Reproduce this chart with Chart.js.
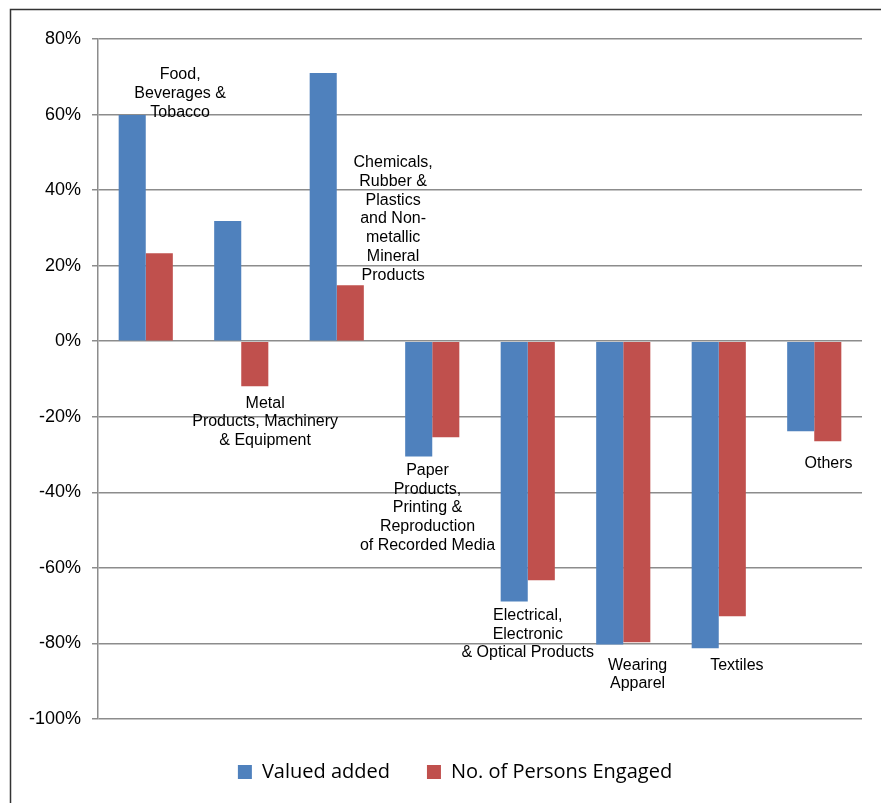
<!DOCTYPE html>
<html>
<head>
<meta charset="utf-8">
<script src="https://cdn.jsdelivr.net/npm/chart.js@4.4.1/dist/chart.umd.min.js"></script>
<style>
  html, body { margin: 0; padding: 0; background: #fff; }
  #wrap { width: 881px; height: 803px; position: relative; }
</style>
</head>
<body>
<div id="wrap"><canvas id="c" width="881" height="803"></canvas></div>
<script>
// ---- data ----
const categories = [
  "Food, Beverages & Tobacco",
  "Metal Products, Machinery & Equipment",
  "Chemicals, Rubber & Plastics and Non-metallic Mineral Products",
  "Paper Products, Printing & Reproduction of Recorded Media",
  "Electrical, Electronic & Optical Products",
  "Wearing Apparel",
  "Textiles",
  "Others"
];
const valueAdded = [59.9, 31.8, 71.0, -30.5, -68.9, -80.3, -81.3, -23.8];
const personsEngaged = [23.3, -11.9, 14.8, -25.4, -63.3, -79.7, -72.8, -26.5];
const yTicks = [80, 60, 40, 20, 0, -20, -40, -60, -80, -100];
const seriesNames = ["Valued added", "No. of Persons Engaged"];

// category annotation text (as shown in the chart)
const labelLines = [
  ["Food,", "Beverages &", "Tobacco"],
  ["Metal", "Products, Machinery", "& Equipment"],
  ["Chemicals,", "Rubber &", "Plastics", "and Non-", "metallic", "Mineral", "Products"],
  ["Paper", "Products,", "Printing &", "Reproduction", "of Recorded Media"],
  ["Electrical,", "Electronic", "& Optical Products"],
  ["Wearing", "Apparel"],
  ["Textiles"],
  ["Others"]
];
// anchor of first line: value on y axis, offset from category centre in category widths
const labelAnchorY = [70.5, -16.4, 47.2, -34.2, -72.6, -85.8, -85.8, -32.3];
const labelOffset = [0.36, 0.25, 0.59, -0.05, 0.0, 0.15, 0.19, 0.15];

const annotationPlugin = {
  id: 'catLabels',
  afterDatasetsDraw(chart) {
    const ctx = chart.ctx;
    const xs = chart.scales.x, ys = chart.scales.y;
    const catW = (xs.right - xs.left) / categories.length;
    const lh = Math.abs(ys.getPixelForValue(0) - ys.getPixelForValue(4.95));
    ctx.save();
    ctx.font = '16px "Liberation Sans", Arial, sans-serif';
    ctx.fillStyle = '#000';
    ctx.textAlign = 'center';
    ctx.textBaseline = 'middle';
    labelLines.forEach((lines, i) => {
      const x = xs.getPixelForValue(i) + labelOffset[i] * catW;
      const y0 = ys.getPixelForValue(labelAnchorY[i]);
      lines.forEach((t, k) => ctx.fillText(t, x, y0 + k * lh));
    });
    ctx.restore();
  }
};

const borderPlugin = {
  id: 'outerBorder',
  beforeDraw(chart) {
    const ctx = chart.ctx;
    ctx.save();
    ctx.fillStyle = '#fff';
    ctx.fillRect(0, 0, chart.width, chart.height);
    ctx.strokeStyle = '#333';
    ctx.lineWidth = 1.5;
    ctx.strokeRect(10.5, 9.5, chart.width + 20, chart.height + 20);
    ctx.restore();
  }
};

// shift the legend block so it is centred as in the reference
const legendShift = {
  id: 'legendShift',
  afterLayout(chart) {
    if (chart.legend) { chart.legend.left += 24; chart.legend.right += 24; }
  }
};

new Chart(document.getElementById('c'), {
  type: 'bar',
  data: {
    labels: categories,
    datasets: [
      { label: seriesNames[0], data: valueAdded, backgroundColor: '#4F81BD', borderWidth: 0 },
      { label: seriesNames[1], data: personsEngaged, backgroundColor: '#C0504D', borderWidth: 0 }
    ]
  },
  options: {
    responsive: false,
    animation: false,
    devicePixelRatio: 1,
    layout: { padding: { top: 39, left: 0, right: 19, bottom: 11 } },
    datasets: { bar: { categoryPercentage: 0.567, barPercentage: 1.0 } },
    scales: {
      x: {
        display: true,
        grid: { display: false, drawTicks: false },
        border: { display: false },
        ticks: { display: false },
        afterFit(scale) { scale.height = 6; }
      },
      y: {
        min: -100, max: 80,
        afterBuildTicks(scale) { scale.ticks = yTicks.map(v => ({ value: v })); },
        afterFit(scale) { scale.width = 98; },
        border: { display: true, color: '#8c8c8c', width: 1.5 },
        grid: { color: '#8c8c8c', lineWidth: 1.5, tickLength: 6, drawTicks: true },
        ticks: {
          padding: 11,
          color: '#000',
          font: { family: '"Liberation Sans", Arial, sans-serif', size: 18 },
          callback: v => v + '%'
        }
      }
    },
    plugins: {
      legend: {
        position: 'bottom',
        labels: {
          boxWidth: 14, boxHeight: 14, padding: 37,
          color: '#000',
          font: { family: '"Open Sans", sans-serif', size: 20 }
        }
      },
      tooltip: { enabled: false }
    }
  },
  plugins: [borderPlugin, annotationPlugin, legendShift]
});
</script>
</body>
</html>
